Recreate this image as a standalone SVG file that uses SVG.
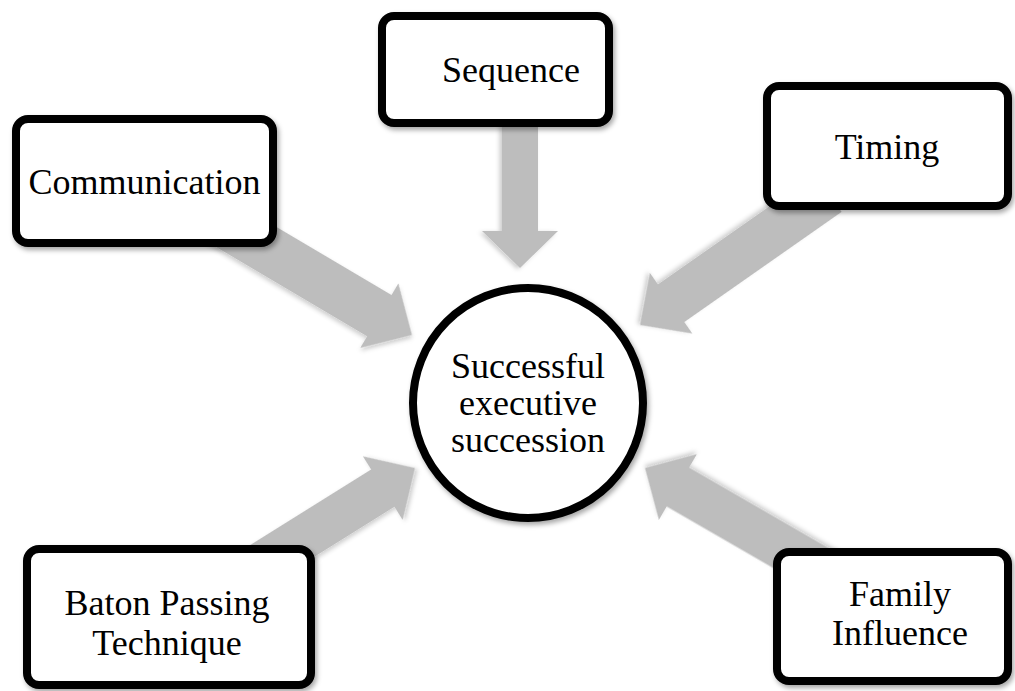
<svg xmlns="http://www.w3.org/2000/svg" width="1015" height="691" viewBox="0 0 1015 691">
  <defs>
    <filter id="shadow" x="-20%" y="-20%" width="140%" height="140%">
      <feDropShadow dx="2" dy="3" stdDeviation="2.5" flood-color="#000" flood-opacity="0.35"/>
    </filter>
    <filter id="soft" x="-20%" y="-20%" width="140%" height="140%">
      <feDropShadow dx="1.5" dy="2.5" stdDeviation="2" flood-color="#000" flood-opacity="0.2"/>
    </filter>
  </defs>
  <style>
    .box { fill: #ffffff; stroke: #000000; stroke-width: 8; filter: url(#shadow); }
    .arrow { fill: #bdbdbd; filter: url(#soft); }
    .label { font-family: "Liberation Serif", "Times New Roman", serif; font-size: 36px; fill: #000000; text-anchor: middle; }
  </style>
  <rect width="1015" height="691" fill="#ffffff"/>

  <!-- block arrows: tip at local origin, pointing along +x -->
  <g id="connectors">
    <polygon class="arrow" transform="translate(412,335) rotate(30.6)" points="-230,-24 -38,-24 -38,-37.5 0,0 -38,37.5 -38,24 -230,24"/>
    <polygon class="arrow" transform="translate(520,268) rotate(90)" points="-160,-18 -37,-18 -37,-38 0,0 -37,38 -37,18 -160,18"/>
    <polygon class="arrow" transform="translate(640,325) rotate(145)" points="-230,-23 -38,-23 -38,-37 0,0 -38,37 -38,23 -230,23"/>
    <polygon class="arrow" transform="translate(415,468) rotate(-32)" points="-230,-22 -38,-22 -38,-37.5 0,0 -38,37.5 -38,22 -230,22"/>
    <polygon class="arrow" transform="translate(645,468) rotate(-150)" points="-230,-22.5 -38,-22.5 -38,-38 0,0 -38,38 -38,22.5 -230,22.5"/>
  </g>

  <g id="communication">
    <rect class="box" x="16" y="119" width="257" height="124" rx="12"/>
    <text class="label" x="144.5" y="194">Communication</text>
  </g>

  <g id="sequence">
    <rect class="box" x="382" y="16" width="227" height="107" rx="12"/>
    <text class="label" x="511" y="82">Sequence</text>
  </g>

  <g id="timing">
    <rect class="box" x="767" y="86" width="241" height="120" rx="12"/>
    <text class="label" x="887" y="159">Timing</text>
  </g>

  <g id="baton-passing">
    <rect class="box" x="27" y="549" width="284" height="136" rx="12"/>
    <text class="label" x="167" y="615">Baton Passing</text>
    <text class="label" x="167" y="655">Technique</text>
  </g>

  <g id="family-influence">
    <rect class="box" x="777" y="552" width="231" height="129" rx="12"/>
    <text class="label" x="900" y="606">Family</text>
    <text class="label" x="900" y="645">Influence</text>
  </g>

  <g id="succession">
    <circle class="box" cx="528" cy="403" r="115"/>
    <text class="label" x="528" y="378">Successful</text>
    <text class="label" x="528" y="415">executive</text>
    <text class="label" x="528" y="452">succession</text>
  </g>
</svg>
